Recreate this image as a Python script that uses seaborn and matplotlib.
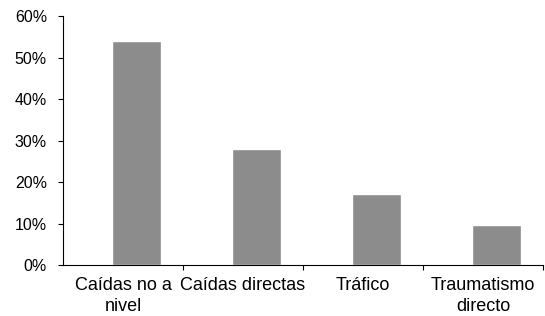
import numpy as np
import pandas as pd
import matplotlib
matplotlib.use("Agg")
import matplotlib.pyplot as plt
import seaborn as sns
import matplotlib.ticker as ticker

categories = ["Caídas no a\nnivel", "Caídas directas", "Tráfico", "Traumatismo\ndirecto"]
values = [54.0, 28.0, 17.0, 9.7]

df = pd.DataFrame({"cat": categories, "pct": values})

sns.set_style("white")
plt.rcParams["font.family"] = ["Liberation Sans", "DejaVu Sans"]

fig = plt.figure(figsize=(5.45, 3.16), dpi=100)
ax = fig.add_axes([0.1156, 0.1614, 0.8807, 0.7876])

sns.barplot(data=df, x="cat", y="pct", color="#8c8c8c", saturation=1,
            width=0.41, ax=ax)

# bars sit a little right of the category centres in the original
off = 0.113
n = len(categories)
ax.set_xlim(-0.5 - off, n - 0.5 - off)
ax.set_ylim(0, 60)
ax.yaxis.set_major_locator(ticker.MultipleLocator(10))
ax.yaxis.set_major_formatter(ticker.FuncFormatter(lambda v, p: "%d%%" % v))

ax.set_xticks(np.arange(n) - off)
ax.set_xticklabels(categories, fontsize=13, linespacing=1.3)
ax.set_xticks(np.arange(n) + 0.5 - off, minor=True)
ax.tick_params(axis="x", which="major", bottom=True, length=0, pad=9)
ax.tick_params(axis="x", which="minor", bottom=True, length=3.6, width=0.8,
               direction="out", color="black")
ax.tick_params(axis="y", left=True, length=3.6, width=0.8, direction="out",
               color="black", labelsize=11.5, pad=8)
for lab in ax.get_yticklabels() + ax.get_xticklabels():
    lab.set_color("black")

for side in ["top", "right"]:
    ax.spines[side].set_visible(False)
for side in ["left", "bottom"]:
    ax.spines[side].set_color("black")
    ax.spines[side].set_linewidth(0.8)

ax.set_xlabel("")
ax.set_ylabel("")

fig.savefig("out.png", dpi=100)
